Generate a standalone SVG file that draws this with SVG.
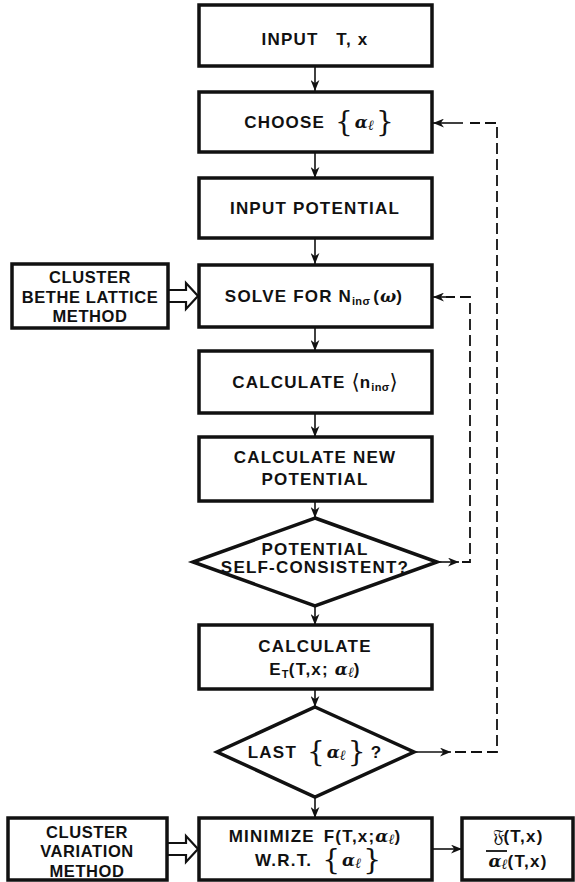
<svg xmlns="http://www.w3.org/2000/svg" width="575" height="882" viewBox="0 0 575 882">
<defs>
<style>
.box{fill:#fff;stroke:#111;stroke-width:3.5}
.dia{fill:#fff;stroke:#111;stroke-width:3.5;stroke-linejoin:miter}
.dbl{fill:#fff;stroke:#111;stroke-width:2.2;stroke-linejoin:miter}
.ln{fill:none;stroke:#111;stroke-width:1.6}
.dash{fill:none;stroke:#111;stroke-width:1.8;stroke-dasharray:11 5}
.t{font-family:"Liberation Sans",Arial,sans-serif;font-weight:bold;font-size:17px;letter-spacing:1.2px;fill:#111;text-anchor:middle}
.l{font-size:16.5px;letter-spacing:0.6px}
.g{font-family:"DejaVu Serif",serif;font-style:italic;font-weight:bold;letter-spacing:0}
.s{font-size:14px}
.sub{font-size:11px;letter-spacing:0.3px}
.b{font-family:"DejaVu Serif",serif;font-weight:normal;font-size:28px;letter-spacing:0}
.ang{font-family:"DejaVu Sans",sans-serif;font-weight:normal;font-size:21px;letter-spacing:0}
</style>
<marker id="ah" viewBox="0 0 10 8" refX="10" refY="4" markerWidth="11" markerHeight="9" markerUnits="userSpaceOnUse" orient="auto">
<path d="M0,0 L10,4 L0,8 L3,4 z" fill="#111"/>
</marker>
</defs>
<rect width="575" height="882" fill="#fff"/>

<g id="connectors">
<line class="ln" x1="315" y1="67" x2="315" y2="91" marker-end="url(#ah)"/>
<line class="ln" x1="315" y1="153" x2="315" y2="178" marker-end="url(#ah)"/>
<line class="ln" x1="315" y1="239" x2="315" y2="264" marker-end="url(#ah)"/>
<line class="ln" x1="315" y1="328" x2="315" y2="351" marker-end="url(#ah)"/>
<line class="ln" x1="315" y1="414" x2="315" y2="437" marker-end="url(#ah)"/>
<line class="ln" x1="315" y1="502" x2="315" y2="518" marker-end="url(#ah)"/>
<line class="ln" x1="315" y1="607" x2="315" y2="625" marker-end="url(#ah)"/>
<line class="ln" x1="315" y1="690" x2="315" y2="707" marker-end="url(#ah)"/>
<line class="ln" x1="315" y1="798" x2="315" y2="818" marker-end="url(#ah)"/>
<line class="ln" x1="433" y1="849" x2="462" y2="849" marker-end="url(#ah)"/>
<line class="ln" x1="438" y1="562" x2="459" y2="562" marker-end="url(#ah)"/>
<polyline class="dash" points="462,562 470,562 470,297 446,297"/>
<line class="ln" x1="447" y1="297" x2="433" y2="297" marker-end="url(#ah)"/>
<line class="ln" x1="415" y1="752" x2="451" y2="752" marker-end="url(#ah)"/>
<polyline class="dash" points="455,752 497,752 497,123 470,123"/>
<line class="ln" x1="463" y1="123" x2="433" y2="123" marker-end="url(#ah)"/>
<polygon class="dbl" points="168,290 186,290 186,283 198,296 186,309 186,302 168,302"/>
<polygon class="dbl" points="167,843 186,843 186,836 198,849 186,862 186,855 167,855"/>
</g>

<g id="input-tx">
<rect class="box" x="199" y="5" width="233" height="61"/>
<text class="t" x="315" y="45" xml:space="preserve">INPUT   T, x</text>
</g>

<g id="choose">
<rect class="box" x="199" y="92" width="233" height="60"/>
<text class="t" x="319" y="128">CHOOSE <tspan class="b" dx="4" dy="3">{</tspan><tspan class="g" dx="2" dy="-3">α</tspan><tspan class="g s" dy="2">ℓ</tspan><tspan class="b" dx="2" dy="1">}</tspan></text>
</g>

<g id="input-potential">
<rect class="box" x="199" y="178" width="233" height="60"/>
<text class="t" x="315" y="214">INPUT POTENTIAL</text>
</g>

<g id="solve">
<rect class="box" x="199" y="265" width="233" height="62"/>
<text class="t" x="314" y="302">SOLVE FOR N<tspan class="sub" dy="3">inσ</tspan><tspan dx="3" dy="-3">(</tspan><tspan class="g">ω</tspan>)</text>
</g>

<g id="calc-n">
<rect class="box" x="199" y="351" width="233" height="62"/>
<text class="t" x="315" y="388">CALCULATE <tspan class="ang" dy="1">⟨</tspan><tspan dy="-1">n</tspan><tspan class="sub" dy="3">inσ</tspan><tspan class="ang" dy="-2">⟩</tspan></text>
</g>

<g id="calc-new-potential">
<rect class="box" x="199" y="437" width="233" height="64"/>
<text class="t" x="315" y="463">CALCULATE NEW</text>
<text class="t" x="315" y="485">POTENTIAL</text>
</g>

<g id="self-consistent">
<polygon class="dia" points="315,518 437,562 315,606 193,562"/>
<text class="t" x="315" y="555">POTENTIAL</text>
<text class="t" x="315" y="573">SELF-CONSISTENT?</text>
</g>

<g id="calc-energy">
<rect class="box" x="199" y="625" width="233" height="64"/>
<text class="t" x="315" y="652">CALCULATE</text>
<text class="t" x="315" y="675">E<tspan class="sub" dy="3">T</tspan><tspan dy="-3">(T,x; </tspan><tspan class="g">α</tspan><tspan class="g s" dy="2">ℓ</tspan><tspan dy="-2">)</tspan></text>
</g>

<g id="last">
<polygon class="dia" points="315,707 414,752 315,797 217,752"/>
<text class="t" x="315" y="758">LAST <tspan class="b" dx="4" dy="3">{</tspan><tspan class="g" dx="2" dy="-3">α</tspan><tspan class="g s" dy="2">ℓ</tspan><tspan class="b" dx="2" dy="1">}</tspan><tspan dx="5" dy="-3">?</tspan></text>
</g>

<g id="minimize">
<rect class="box" x="199" y="818" width="233" height="62"/>
<text class="t" x="315" y="842">MINIMIZE <tspan dx="3">F(T,x;</tspan><tspan class="g">α</tspan><tspan class="g s" dy="2">ℓ</tspan><tspan dy="-2">)</tspan></text>
<text class="t" x="318" y="866">W.R.T. <tspan class="b" dx="4" dy="3">{</tspan><tspan class="g" dx="2" dy="-3">α</tspan><tspan class="g s" dy="2">ℓ</tspan><tspan class="b" dx="2" dy="1">}</tspan></text>
</g>

<g id="result">
<rect class="box" x="462" y="818" width="111" height="62"/>
<text class="t" x="518" y="842"><tspan class="b" style="font-size:18px;font-family:'DejaVu Serif','DejaVu Sans',serif">𝔉</tspan>(T,x)</text>
<line x1="486" y1="851" x2="507" y2="851" stroke="#111" stroke-width="1.8"/>
<text class="t" x="518" y="867"><tspan class="g">α</tspan><tspan class="g s" dy="2">ℓ</tspan><tspan dy="-2">(T,x)</tspan></text>
</g>

<g id="cluster-bethe">
<rect class="box" x="12" y="264" width="156" height="64"/>
<text class="t l" x="90" y="283">CLUSTER</text>
<text class="t l" x="90" y="303">BETHE LATTICE</text>
<text class="t l" x="90" y="322">METHOD</text>
</g>

<g id="cluster-variation">
<rect class="box" x="8" y="818" width="159" height="62"/>
<text class="t l" x="87" y="838">CLUSTER</text>
<text class="t l" x="87" y="857">VARIATION</text>
<text class="t l" x="87" y="877">METHOD</text>
</g>
</svg>
